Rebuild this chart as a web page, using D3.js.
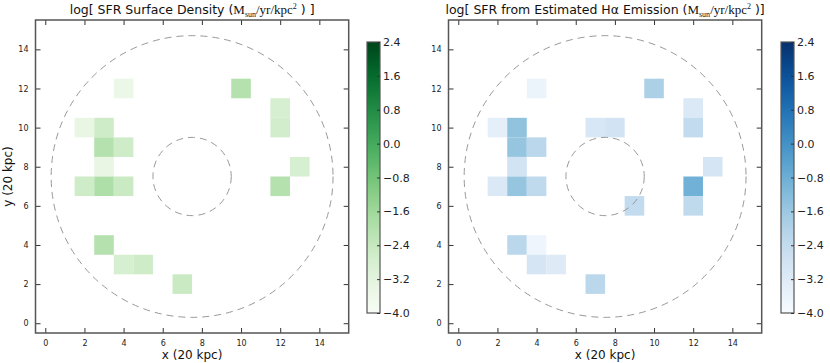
<!DOCTYPE html>
<html><head><meta charset="utf-8">
<script src="https://cdn.jsdelivr.net/npm/d3@7"></script>
<style>body{margin:0;background:#fff;} svg{display:block;}</style>
</head><body>
<svg id="c" width="830" height="363"></svg>
<script>
// ---- data ----
const sfrX   = [4, 10, 12, 12, 2, 3, 3, 4, 3, 13, 2, 3, 4, 12, 3, 4, 5, 7];
const sfrY   = [12, 12, 11, 10, 10, 10, 9, 9, 8, 8, 7, 7, 7, 7, 4, 3, 3, 2];
const sfrVal = [-3.5, -2.0, -2.8, -2.7, -3.4, -2.6, -2.0, -2.6, -3.4, -2.8, -2.6, -1.9, -2.5, -2.0, -2.0, -2.8, -2.6, -2.5];

const haX   = [4, 10, 12, 12, 2, 3, 3, 4, 3, 7, 8, 13, 2, 3, 4, 12, 12, 9, 3, 4, 4, 5, 7];
const haY   = [12, 12, 11, 10, 10, 10, 9, 9, 8, 10, 10, 8, 7, 7, 7, 7, 6, 6, 4, 4, 3, 3, 2];
const haVal = [-3.6, -1.9, -3.1, -2.4, -3.4, -1.4, -1.5, -2.2, -2.8, -3.0, -2.8, -2.9, -3.1, -1.5, -2.3, -0.9, -2.3, -2.4, -2.2, -3.7, -2.9, -3.2, -2.2];

const axisTicks = [0, 2, 4, 6, 8, 10, 12, 14];
const cbarTicks = [2.4, 1.6, 0.8, 0.0, -0.8, -1.6, -2.4, -3.2, -4.0];
const vMin = -4.0, vMax = 2.4;
const outerR = 7.2, innerR = 2.0, center = 7.5;

// ---- drawing ----
const svg = d3.select("#c");
const yS = d3.scaleLinear([-0.5, 15.5], [333, 20]);
const frameStroke = "#555";

function panel(x0, x1, xs, ys, vals, interp, cbX, titleParts, showYLabel) {
  const xS = d3.scaleLinear([-0.5, 15.5], [x0, x1]);
  const color = d3.scaleSequential(interp).domain([vMin, vMax]);
  const g = svg.append("g");

  // cells
  g.selectAll("rect.cell").data(vals).join("rect")
    .attr("x", (d, i) => xS(xs[i] - 0.5))
    .attr("y", (d, i) => yS(ys[i] + 0.5))
    .attr("width", (d, i) => xS(xs[i] + 0.5) - xS(xs[i] - 0.5))
    .attr("height", (d, i) => yS(ys[i] - 0.5) - yS(ys[i] + 0.5))
    .attr("fill", d => color(d));

  // circles
  [outerR, innerR].forEach(r => {
    g.append("ellipse")
      .attr("cx", xS(center)).attr("cy", yS(center))
      .attr("rx", xS(center + r) - xS(center))
      .attr("ry", yS(center - r) - yS(center))
      .attr("fill", "none").attr("stroke", "#999").attr("stroke-width", 1)
      .attr("stroke-dasharray", "7,5");
  });

  // axes
  const fmt = d3.format("d");
  const styleAx = a => {
    a.select(".domain").remove();
    a.selectAll("line").attr("stroke", "#333");
    a.selectAll("text").attr("font-family", "DejaVu Sans").attr("font-size", 8).attr("fill", "#222");
  };
  svg.append("g").attr("transform", `translate(0,${yS(-0.5)})`)
    .call(d3.axisBottom(xS).tickValues(axisTicks).tickSize(-5).tickPadding(7).tickFormat(fmt)).call(styleAx);
  svg.append("g").attr("transform", `translate(0,${yS(15.5)})`)
    .call(d3.axisTop(xS).tickValues(axisTicks).tickSize(-5).tickFormat("")).call(styleAx);
  svg.append("g").attr("transform", `translate(${x0},0)`)
    .call(d3.axisLeft(yS).tickValues(axisTicks).tickSize(-5).tickPadding(7).tickFormat(fmt)).call(styleAx);
  svg.append("g").attr("transform", `translate(${x1},0)`)
    .call(d3.axisRight(yS).tickValues(axisTicks).tickSize(-5).tickFormat("")).call(styleAx);

  // frame
  svg.append("rect").attr("x", x0).attr("y", yS(15.5))
    .attr("width", x1 - x0).attr("height", yS(-0.5) - yS(15.5))
    .attr("fill", "none").attr("stroke", frameStroke).attr("stroke-width", 1.5);

  // title
  const cx = (x0 + x1) / 2;
  const t = svg.append("text").attr("x", cx).attr("y", 14).attr("text-anchor", "middle")
    .attr("font-family", "DejaVu Sans").attr("font-size", 12.5).attr("fill", "#111");
  t.append("tspan").text(titleParts[0]);
  t.append("tspan").attr("font-family", "Liberation Serif").attr("font-size", 13).text("M");
  t.append("tspan").attr("font-family", "Liberation Serif").attr("font-size", 8).attr("dy", 3).text("sun");
  t.append("tspan").attr("font-family", "Liberation Serif").attr("font-size", 13).attr("dy", -3).text("/yr/kpc");
  t.append("tspan").attr("font-family", "Liberation Serif").attr("font-size", 8).attr("dy", -5).text("2");
  t.append("tspan").attr("dy", 5).text(titleParts[1]);

  // x label
  svg.append("text").attr("x", cx).attr("y", 359).attr("text-anchor", "middle")
    .attr("font-family", "DejaVu Sans").attr("font-size", 12).attr("fill", "#111").text("x (20 kpc)");
  if (showYLabel) {
    svg.append("text").attr("transform", `translate(12,${(yS(-0.5) + yS(15.5)) / 2}) rotate(-90)`)
      .attr("text-anchor", "middle").attr("font-family", "DejaVu Sans").attr("font-size", 12)
      .attr("fill", "#111").text("y (20 kpc)");
  }

  // colorbar
  const cbTop = 42, cbBot = 313, cbW = 13;
  const cS = d3.scaleLinear([vMin, vMax], [cbBot, cbTop]);
  const gid = "grad" + cbX;
  const grad = svg.append("defs").append("linearGradient").attr("id", gid)
    .attr("x1", 0).attr("y1", 1).attr("x2", 0).attr("y2", 0);
  d3.range(0, 1.0001, 0.05).forEach(f => {
    grad.append("stop").attr("offset", f).attr("stop-color", color(vMin + f * (vMax - vMin)));
  });
  svg.append("rect").attr("x", cbX).attr("y", cbTop).attr("width", cbW).attr("height", cbBot - cbTop)
    .attr("fill", `url(#${gid})`).attr("stroke", frameStroke).attr("stroke-width", 1.2);
  const cax = svg.append("g").attr("transform", `translate(${cbX + cbW},0)`)
    .call(d3.axisRight(cS).tickValues(cbarTicks).tickSize(-3).tickPadding(3)
      .tickFormat(d => d3.format(".1f")(d).replace("-", "\u2212")));
  cax.select(".domain").remove();
  cax.selectAll("line").attr("stroke", "#333");
  cax.selectAll("text").attr("font-family", "DejaVu Sans").attr("font-size", 11).attr("fill", "#222");
}

panel(35.5, 348.7, sfrX, sfrY, sfrVal, d3.interpolateGreens, 367,
  ["log[ SFR Surface Density (", " ) ]"], true);
panel(448.5, 761.7, haX, haY, haVal, d3.interpolateBlues, 781,
  ["log[ SFR from Estimated H\u03b1 Emission (", " )]"], false);
</script>
</body></html>
